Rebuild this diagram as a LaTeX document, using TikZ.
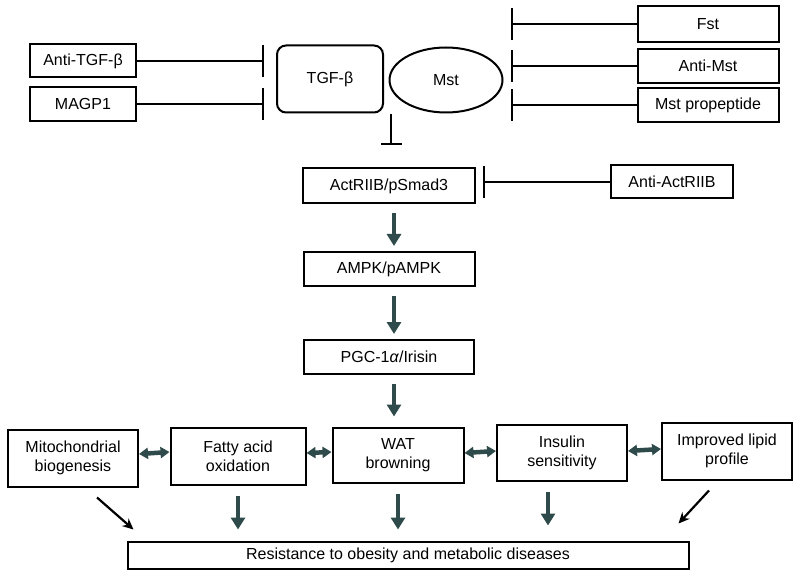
\documentclass[tikz,border=0pt]{standalone}
\usepackage{fontspec}
\setmainfont{Liberation Sans}
\usepackage{tikz}
\usetikzlibrary{arrows.meta, shapes.geometric}
\definecolor{arrowc}{HTML}{2E4A4A}

\begin{document}
\begin{tikzpicture}[x=1pt, y=-1pt,
    box/.style={rectangle, draw=black, line width=2pt, text centered, align=center, font=\fontsize{16}{19}\selectfont, inner sep=0pt},
    roundbox/.style={box, rounded corners=9pt},
    oval/.style={ellipse, draw=black, line width=2pt, text centered, font=\fontsize{16}{19}\selectfont, inner sep=0pt},
    inhibit/.style={line width=2pt, -{Bar[width=32pt, line width=2.2pt]}},
    shortbar/.style={line width=2pt, -{Bar[width=21pt, line width=2.2pt]}},
    down/.style={line width=4.5pt, arrowc, -{Triangle[width=14pt, length=12pt]}},
    both/.style={line width=4.5pt, arrowc, {Triangle[width=11pt, length=9pt]}-{Triangle[width=11pt, length=9pt]}},
    diag/.style={line width=2.2pt, -{Stealth[width=10pt, length=11pt]}}
]
\useasboundingbox (0,0) rectangle (800,577);

% Inhibitors and ligands
\node[box, minimum width=106pt, minimum height=33pt] (antitgf) at (83,61) {Anti-TGF-β};
\node[box, minimum width=106pt, minimum height=34pt] (magp) at (83,104) {MAGP1};
\node[roundbox, minimum width=106pt, minimum height=67pt] (tgf) at (330,79) {TGF-β};
\node[oval, minimum width=113pt, minimum height=65pt] (mst) at (446,80) {Mst};
\node[box, minimum width=141pt, minimum height=36pt] (fst) at (708,24) {Fst};
\node[box, minimum width=141pt, minimum height=34pt] (antimst) at (708,66) {Anti-Mst};
\node[box, minimum width=141pt, minimum height=34pt] (mstpro) at (708,105) {Mst propeptide};
\coordinate (tgfmst) at (391,114);
\coordinate (mstbar) at (391,145);

% Signalling cascade
\node[box, minimum width=172pt, minimum height=35pt] (actr) at (389,186) {ActRIIB/pSmad3};
\node[box, minimum width=122pt, minimum height=33pt] (antiact) at (672,182) {Anti-ActRIIB};
\node[box, minimum width=171pt, minimum height=34pt] (ampk) at (389,269) {AMPK/pAMPK};
\node[box, minimum width=170pt, minimum height=34pt] (pgc) at (389,357) {PGC-1\textit{α}/Irisin};

% Effects
\node[box, minimum width=130pt, minimum height=57pt] (mito) at (73,458) {Mitochondrial\\biogenesis};
\node[box, minimum width=135pt, minimum height=57pt] (fatty) at (238,456) {Fatty acid\\oxidation};
\node[box, minimum width=131pt, minimum height=55pt] (wat) at (398,455) {WAT\\browning};
\node[box, minimum width=130pt, minimum height=56pt] (insulin) at (562,453) {Insulin\\sensitivity};
\node[box, minimum width=130pt, minimum height=57pt] (lipid) at (727,451) {Improved lipid\\profile};
\node[box, minimum width=561pt, minimum height=27pt] (resist) at (408,555) {Resistance to obesity and metabolic diseases};

% Inhibition lines
\draw[inhibit, shorten >=12pt] (antitgf.east) -- (antitgf.east -| tgf.west);
\draw[inhibit, shorten >=12pt] (magp.east) -- (magp.east -| tgf.west);
\draw[inhibit, shorten >=7pt] (fst.west) -- (fst.west -| mst.east);
\draw[inhibit, shorten >=7pt] (antimst.west) -- (antimst.west -| mst.east);
\draw[inhibit, shorten >=7pt] (mstpro.west) -- (mstpro.west -| mst.east);
\draw[inhibit, shorten >=7pt] (antiact.west) -- (antiact.west -| actr.east);
\draw[shortbar] (tgfmst) -- (mstbar);

% Downward arrows
\draw[down, shorten <=9pt, shorten >=5pt] ([xshift=5pt]actr.south) -- ([xshift=5pt]ampk.north);
\draw[down, shorten <=9pt, shorten >=5pt] ([xshift=5pt]ampk.south) -- ([xshift=5pt]pgc.north);
\draw[down, shorten <=9pt, shorten >=10pt] ([xshift=5pt]pgc.south) -- ([xshift=5pt]pgc.south |- wat.north);

% Horizontal double arrows
\draw[both] ([yshift=4pt]mito.east) -- ([yshift=4pt]fatty.west);
\draw[both] ([yshift=3pt]fatty.east) -- ([yshift=3pt]wat.west);
\draw[both] ([yshift=2pt]wat.east) -- ([yshift=2pt]insulin.west);
\draw[both] ([yshift=2pt]insulin.east) -- ([yshift=2pt]lipid.west);

% Arrows to outcome
\draw[diag] ([xshift=24pt, yshift=-10pt]mito.south) -- ([xshift=7pt, yshift=11pt]resist.north west);
\draw[down, shorten <=10pt, shorten >=11pt] (fatty.south) -- (fatty.south |- resist.north);
\draw[down, shorten <=10pt, shorten >=11pt] (wat.south) -- (wat.south |- resist.north);
\draw[down, shorten <=10pt, shorten >=15pt] ([xshift=-14pt]insulin.south) -- ([xshift=-14pt]insulin.south |- resist.north);
\draw[diag] ([xshift=-18pt, yshift=-10pt]lipid.south) -- ([xshift=-11pt, yshift=17pt]resist.north east);

\end{tikzpicture}
\end{document}
